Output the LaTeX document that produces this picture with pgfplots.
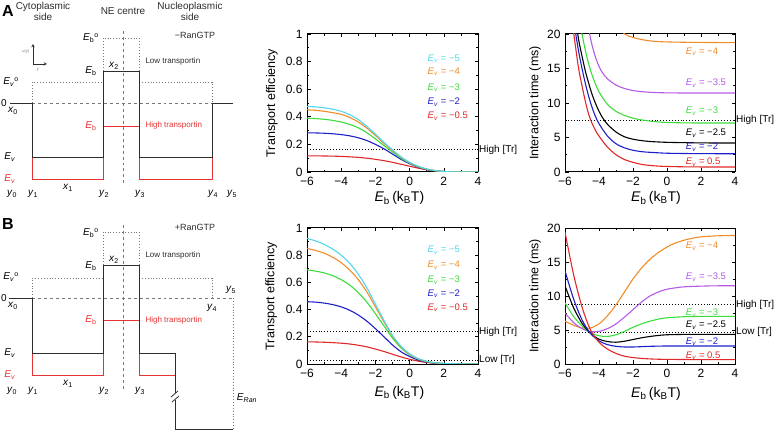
\documentclass[border=0pt]{standalone}
\usepackage{pgfplots}
\pgfplotsset{compat=1.18}
\usepackage{fontspec}
\setmainfont{Liberation Sans}
\newcommand{\fs}[1]{\fontsize{#1bp}{#1bp}\selectfont}
\newcommand{\Ev}{\textit{E}\textsubscript{\textit{v}}}
\newcommand{\Eb}{\textit{E}\textsubscript{b}}
\definecolor{cyanc}{RGB}{80,215,240}
\definecolor{orangec}{RGB}{240,140,40}
\definecolor{greenc}{RGB}{60,220,60}
\definecolor{bluec}{RGB}{30,30,200}
\definecolor{redc}{RGB}{225,40,40}
\definecolor{purplec}{RGB}{180,90,230}
\definecolor{schk}{RGB}{45,45,45}
\definecolor{schr}{RGB}{230,50,50}
\definecolor{schg}{RGB}{120,120,120}
\pgfplotsset{
  myax/.style={scale only axis, anchor=south west, clip mode=individual,
    xmin=-6, xmax=4, xtick={-6,-4,-2,0,2,4}, xticklabels={−6,−4,−2,0,2,4},
    tick align=inside, ticklabel style={font=\fs{12}},
    xticklabel style={yshift=-1.5bp}, yticklabel style={xshift=-1bp},
    axis line style={line width=1pt},
    major tick length=3.5bp, minor tick length=2bp,
    minor x tick num=1, minor y tick num=1,
    every tick/.style={black, line width=0.6pt},
    xlabel={\Eb\,(k\textsubscript{B}T)},
    xlabel style={font=\fs{14}},
    ylabel style={font=\fs{12.5}},
    no marks},
  cur/.style={line width=1.1pt, smooth},
  dl/.style={black, dotted, line width=0.9pt},
  sch/.style={schk, line width=1pt},
  schred/.style={schr, line width=1pt},
  schdot/.style={schg, dotted, line width=0.9pt},
  schdash/.style={schg, dashed, line width=0.7pt},
}
\begin{document}
\begin{tikzpicture}
\useasboundingbox (0,0) rectangle (776bp,432bp);
% ---------------- schematics ----------------
\begin{axis}[scale only axis, anchor=south west, at={(0,0)}, width=776bp, height=432bp,
  xmin=0, xmax=776, ymin=0, ymax=432, y dir=reverse, hide axis, clip=false, no marks]
% ===== panel A =====
\addplot[schdash] coordinates {(32,103)(212,103)};
\addplot[schdash] coordinates {(123,31)(123,183)};
\addplot[schdot] coordinates {(32,103)(32,82)(103,82)};
\addplot[schdot] coordinates {(103,71)(103,38)(139,38)(139,71)};
\addplot[schdot] coordinates {(139,82)(212,82)(212,103)};
\addplot[schred] coordinates {(32,157)(32,179)(103,179)(103,157)};
\addplot[schred] coordinates {(139,157)(139,179)(212,179)(212,157)};
\addplot[schred] coordinates {(103,126)(139,126)};
\addplot[sch] coordinates {(10,103)(32,103)(32,157)(103,157)(103,71)(139,71)(139,157)(212,157)(212,103)(233,103)};
\addplot[schk, line width=0.5pt, -stealth] coordinates {(33,64)(33,44)};
\addplot[schk, line width=0.5pt, -stealth] coordinates {(33,64)(47,64)};
\node[font=\fs{4}, text=schg] at (axis cs:26,51) {\textit{u}(\textit{y})};
\node[font=\fs{4}, text=schg] at (axis cs:38,70) {\textit{y}};
\node[font=\bfseries\fs{16}] at (axis cs:8,11) {A};
\node[font=\fontsize{10bp}{11bp}\selectfont, align=center, text=schk] at (axis cs:43,11) {Cytoplasmic\\side};
\node[font=\fs{10}, text=schk] at (axis cs:123,11) {NE centre};
\node[font=\fontsize{10bp}{11bp}\selectfont, align=center, text=schk] at (axis cs:190,11) {Nucleoplasmic\\side};
\node[font=\fs{9}, text=schk] at (axis cs:195,35) {−RanGTP};
\node[font=\fs{10}] at (axis cs:91,38) {\Eb\textsuperscript{o}};
\node[font=\fs{8}, text=schk, anchor=west] at (axis cs:142,61) {Low transportin};
\node[font=\fs{10}] at (axis cs:91,71) {\Eb};
\node[font=\fs{10}] at (axis cs:114,66) {\textit{x}\textsubscript{2}};
\node[font=\fs{10}] at (axis cs:11,82) {\Ev\textsuperscript{o}};
\node[font=\fs{10}] at (axis cs:4,103) {0};
\node[font=\fs{10}] at (axis cs:13,111) {\textit{x}\textsubscript{0}};
\node[font=\fs{10}, text=schr] at (axis cs:91,126) {\Eb};
\node[font=\fs{8}, text=schr, anchor=west] at (axis cs:142,125) {High transportin};
\node[font=\fs{10}] at (axis cs:10,157) {\Ev};
\node[font=\fs{10}, text=schr] at (axis cs:10,179) {\Ev};
\node[font=\fs{10}] at (axis cs:68,188) {\textit{x}\textsubscript{1}};
\node[font=\fs{10}] at (axis cs:12,194) {\textit{y}\textsubscript{0}};
\node[font=\fs{10}] at (axis cs:33,194) {\textit{y}\textsubscript{1}};
\node[font=\fs{10}] at (axis cs:104,194) {\textit{y}\textsubscript{2}};
\node[font=\fs{10}] at (axis cs:140,194) {\textit{y}\textsubscript{3}};
\node[font=\fs{10}] at (axis cs:213,194) {\textit{y}\textsubscript{4}};
\node[font=\fs{10}] at (axis cs:232,194) {\textit{y}\textsubscript{5}};
% ===== panel B =====
\addplot[schdash] coordinates {(32,298)(233,298)};
\addplot[schdash] coordinates {(123,225)(123,392)};
\addplot[schdot] coordinates {(32,298)(32,278)(103,278)};
\addplot[schdot] coordinates {(103,265)(103,232)(139,232)(139,265)};
\addplot[schdot] coordinates {(139,278)(212,278)(212,298)};
\addplot[schdot] coordinates {(233,298)(233,429)};
\addplot[schred] coordinates {(32,353)(32,375)(103,375)(103,353)};
\addplot[schred] coordinates {(139,353)(139,375)(175,375)};
\addplot[schred] coordinates {(103,320)(139,320)};
\addplot[sch] coordinates {(9,298)(32,298)(32,353)(103,353)(103,265)(139,265)(139,353)(175,353)(175,393)};
\addplot[sch] coordinates {(175,400)(175,429)(233,429)};
\addplot[sch, line width=0.8pt] coordinates {(171,397)(178,391)};
\addplot[sch, line width=0.8pt] coordinates {(172,402)(179,396)};
\node[font=\bfseries\fs{16}] at (axis cs:8,224) {B};
\node[font=\fs{9}, text=schk] at (axis cs:195,227) {+RanGTP};
\node[font=\fs{10}] at (axis cs:91,233) {\Eb\textsuperscript{o}};
\node[font=\fs{8}, text=schk, anchor=west] at (axis cs:142,255) {Low transportin};
\node[font=\fs{10}] at (axis cs:91,266) {\Eb};
\node[font=\fs{10}] at (axis cs:114,260) {\textit{x}\textsubscript{2}};
\node[font=\fs{10}] at (axis cs:11,277) {\Ev\textsuperscript{o}};
\node[font=\fs{10}] at (axis cs:4,298) {0};
\node[font=\fs{10}] at (axis cs:13,306) {\textit{x}\textsubscript{0}};
\node[font=\fs{10}, text=schr] at (axis cs:91,320) {\Eb};
\node[font=\fs{8}, text=schr, anchor=west] at (axis cs:142,320) {High transportin};
\node[font=\fs{10}] at (axis cs:212,308) {\textit{y}\textsubscript{4}};
\node[font=\fs{10}] at (axis cs:231,290) {\textit{y}\textsubscript{5}};
\node[font=\fs{10}] at (axis cs:10,353) {\Ev};
\node[font=\fs{10}, text=schr] at (axis cs:10,375) {\Ev};
\node[font=\fs{10}] at (axis cs:68,384) {\textit{x}\textsubscript{1}};
\node[font=\fs{10}] at (axis cs:12,391) {\textit{y}\textsubscript{0}};
\node[font=\fs{10}] at (axis cs:33,391) {\textit{y}\textsubscript{1}};
\node[font=\fs{10}] at (axis cs:104,391) {\textit{y}\textsubscript{2}};
\node[font=\fs{10}] at (axis cs:140,391) {\textit{y}\textsubscript{3}};
\node[font=\fs{10}] at (axis cs:247,398) {\textit{E}\textsubscript{\textit{Ran}}};
\end{axis}
% ---------------- A: transport efficiency ----------------
\begin{axis}[myax, at={(307bp,260bp)}, width=171bp, height=138bp,
  ymin=0, ymax=1, ytick={0,0.2,0.4,0.6,0.8,1}, yticklabels={0,0.2,0.4,0.6,0.8,1},
  ylabel={Transport efficiency},
  ylabel style={at={(axis description cs:-0.205,0.5)}, anchor=center},
  xlabel style={at={(axis description cs:0.54,-0.19)}, anchor=center}]
\addplot[dl] coordinates {(-6,0.163)(4,0.163)};
\addplot[cur, redc] coordinates {(-6,0.117)(-5.5,0.117)(-5,0.116)(-4.5,0.115)(-4,0.113)(-3.5,0.110)(-3,0.106)(-2.5,0.100)(-2,0.092)(-1.5,0.082)(-1,0.070)(-0.5,0.056)(0,0.042)(0.5,0.028)(1,0.016)(1.5,0.008)(2,0.003)(2.5,0.001)(3,0)(3.5,0)(4,0)};
\addplot[cur, bluec] coordinates {(-6,0.284)(-5.5,0.283)(-5,0.281)(-4.5,0.277)(-4,0.271)(-3.5,0.262)(-3,0.248)(-2.5,0.228)(-2,0.200)(-1.5,0.168)(-1,0.130)(-0.5,0.092)(0,0.060)(0.5,0.035)(1,0.018)(1.5,0.008)(2,0.003)(2.5,0.001)(3,0)(3.5,0)(4,0)};
\addplot[cur, greenc] coordinates {(-6,0.390)(-5.5,0.387)(-5,0.382)(-4.5,0.374)(-4,0.362)(-3.5,0.345)(-3,0.320)(-2.5,0.285)(-2,0.240)(-1.5,0.192)(-1,0.145)(-0.5,0.100)(0,0.064)(0.5,0.038)(1,0.020)(1.5,0.009)(2,0.003)(2.5,0.001)(3,0)(3.5,0)(4,0)};
\addplot[cur, orangec] coordinates {(-6,0.450)(-5.5,0.447)(-5,0.440)(-4.5,0.430)(-4,0.418)(-3.5,0.395)(-3,0.362)(-2.5,0.318)(-2,0.265)(-1.5,0.208)(-1,0.155)(-0.5,0.107)(0,0.068)(0.5,0.040)(1,0.021)(1.5,0.010)(2,0.004)(2.5,0.001)(3,0)(3.5,0)(4,0)};
\addplot[cur, cyanc] coordinates {(-6,0.475)(-5.5,0.472)(-5,0.465)(-4.5,0.455)(-4,0.440)(-3.5,0.415)(-3,0.380)(-2.5,0.330)(-2,0.275)(-1.5,0.215)(-1,0.160)(-0.5,0.110)(0,0.070)(0.5,0.042)(1,0.022)(1.5,0.010)(2,0.004)(2.5,0.001)(3,0)(3.5,0)(4,0)};
\node[font=\fs{9.5}, text=cyanc, anchor=west] at (axis cs:0.85,0.82) {\Ev\ = −5};
\node[font=\fs{9.5}, text=orangec, anchor=west] at (axis cs:0.85,0.725) {\Ev\ = −4};
\node[font=\fs{9.5}, text=greenc, anchor=west] at (axis cs:0.85,0.61) {\Ev\ = −3};
\node[font=\fs{9.5}, text=bluec, anchor=west] at (axis cs:0.85,0.507) {\Ev\ = −2};
\node[font=\fs{9.5}, text=redc, anchor=west] at (axis cs:0.85,0.406) {\Ev\ = −0.5};
\node[font=\fs{10}, anchor=west, inner sep=1bp] at (axis cs:4,0.163) {High [Tr]};
\end{axis}
% ---------------- A: interaction time ----------------
\begin{axis}[myax, at={(565bp,260bp)}, width=170bp, height=138bp,
  ymin=0, ymax=20, ytick={0,5,10,15,20}, yticklabels={0,5,10,15,20},
  ylabel={Interaction time (ms)},
  ylabel style={at={(axis description cs:-0.176,0.5)}, anchor=center},
  xlabel style={at={(axis description cs:0.535,-0.19)}, anchor=center}]
\addplot[dl] coordinates {(-6,7.5)(4,7.5)};
\addplot[cur, orangec] coordinates {(-3,21.5)(-2.5,20)(-2,19.5)(-1.5,19.2)(-1,19.0)(-0.5,18.9)(0,18.85)(1,18.8)(2,18.78)(3,18.76)(4,18.75)};
\addplot[cur, purplec] coordinates {(-4.7,22.5)(-4.55,20)(-4.4,18.3)(-4.2,16.6)(-4,15.3)(-3.8,14.4)(-3.5,13.5)(-3,12.6)(-2.5,12.1)(-2,11.8)(-1.5,11.65)(-1,11.55)(-0.5,11.5)(0,11.47)(1,11.45)(2,11.45)(3,11.45)(4,11.45)};
\addplot[cur, greenc] coordinates {(-5.1,21.5)(-5,20)(-4.8,17.6)(-4.6,15.6)(-4.4,14.0)(-4.2,12.7)(-4,11.6)(-3.5,9.8)(-3,8.8)(-2.5,8.2)(-2,7.8)(-1.5,7.55)(-1,7.38)(-0.5,7.25)(0,7.18)(1,7.12)(2,7.1)(3,7.1)(4,7.1)};
\addplot[cur, black] coordinates {(-5.4,22.5)(-5.2,19.2)(-5,16.8)(-4.8,14.6)(-4.6,12.8)(-4.4,11.2)(-4.2,9.9)(-4,8.8)(-3.8,7.9)(-3.5,6.9)(-3,5.8)(-2.5,5.1)(-2,4.75)(-1.5,4.55)(-1,4.42)(-0.5,4.35)(0,4.3)(1,4.25)(2,4.22)(3,4.2)(4,4.2)};
\addplot[cur, bluec] coordinates {(-5.5,22.5)(-5.4,20.5)(-5.2,17.5)(-5,15)(-4.8,12.8)(-4.6,10.9)(-4.4,9.3)(-4.2,8.0)(-4,7.0)(-3.5,5.2)(-3,4.1)(-2.5,3.5)(-2,3.15)(-1.5,2.95)(-1,2.85)(-0.5,2.78)(0,2.72)(1,2.68)(2,2.66)(3,2.65)(4,2.65)};
\addplot[cur, redc] coordinates {(-5.6,22.5)(-5.5,20.3)(-5.4,18.5)(-5.2,15)(-5,12.5)(-4.8,10.2)(-4.6,8.3)(-4.4,7.0)(-4.2,6.0)(-4,5.2)(-3.5,3.6)(-3,2.5)(-2.5,1.8)(-2,1.4)(-1.5,1.1)(-1,0.95)(-0.5,0.85)(0,0.8)(1,0.75)(2,0.73)(3,0.72)(4,0.72)};
\node[font=\fs{9.5}, text=orangec, anchor=west] at (axis cs:0.9,17.4) {\Ev\ = −4};
\node[font=\fs{9.5}, text=purplec, anchor=west] at (axis cs:0.9,12.9) {\Ev\ = −3.5};
\node[font=\fs{9.5}, text=greenc, anchor=west] at (axis cs:0.9,8.84) {\Ev\ = −3};
\node[font=\fs{9.5}, text=black, anchor=west] at (axis cs:0.9,5.65) {\Ev\ = −2.5};
\node[font=\fs{9.5}, text=bluec, anchor=west] at (axis cs:0.9,3.6) {\Ev\ = −2};
\node[font=\fs{9.5}, text=redc, anchor=west] at (axis cs:0.9,1.45) {\Ev\ = 0.5};
\node[font=\fs{10}, anchor=west, inner sep=1bp] at (axis cs:4,7.5) {High [Tr]};
\end{axis}
% ---------------- B: transport efficiency ----------------
\begin{axis}[myax, at={(307bp,68bp)}, width=171bp, height=136bp,
  ymin=0, ymax=1, ytick={0,0.2,0.4,0.6,0.8,1}, yticklabels={0,0.2,0.4,0.6,0.8,1},
  ylabel={Transport efficiency},
  ylabel style={at={(axis description cs:-0.21,0.5)}, anchor=center},
  xlabel style={at={(axis description cs:0.54,-0.21)}, anchor=center}]
\addplot[dl] coordinates {(-6,0.239)(4,0.239)};
\addplot[dl] coordinates {(-6,0.027)(4,0.027)};
\addplot[cur, redc] coordinates {(-6,0.163)(-5.5,0.162)(-5,0.160)(-4.5,0.157)(-4,0.153)(-3.5,0.147)(-3,0.138)(-2.5,0.126)(-2,0.110)(-1.5,0.092)(-1,0.072)(-0.5,0.052)(0,0.035)(0.5,0.021)(1,0.011)(1.5,0.005)(2,0.002)(2.5,0.001)(3,0)(3.5,0)(4,0)};
\addplot[cur, bluec] coordinates {(-6,0.458)(-5.5,0.455)(-5,0.448)(-4.5,0.437)(-4,0.420)(-3.5,0.395)(-3,0.360)(-2.5,0.315)(-2,0.260)(-1.5,0.200)(-1,0.140)(-0.5,0.090)(0,0.055)(0.5,0.030)(1,0.015)(1.5,0.007)(2,0.003)(2.5,0.001)(3,0)(3.5,0)(4,0)};
\addplot[cur, greenc] coordinates {(-6,0.692)(-5.5,0.683)(-5,0.670)(-4.5,0.650)(-4,0.620)(-3.5,0.580)(-3,0.525)(-2.5,0.455)(-2,0.370)(-1.5,0.280)(-1,0.190)(-0.5,0.118)(0,0.068)(0.5,0.036)(1,0.018)(1.5,0.008)(2,0.003)(2.5,0.001)(3,0)(3.5,0)(4,0)};
\addplot[cur, orangec] coordinates {(-6,0.850)(-5.5,0.835)(-5,0.815)(-4.5,0.785)(-4,0.745)(-3.5,0.690)(-3,0.620)(-2.5,0.530)(-2,0.420)(-1.5,0.310)(-1,0.205)(-0.5,0.125)(0,0.072)(0.5,0.038)(1,0.019)(1.5,0.009)(2,0.004)(2.5,0.002)(3,0.001)(3.5,0)(4,0)};
\addplot[cur, cyanc] coordinates {(-6,0.924)(-5.5,0.905)(-5,0.880)(-4.5,0.845)(-4,0.800)(-3.5,0.740)(-3,0.660)(-2.5,0.560)(-2,0.440)(-1.5,0.320)(-1,0.210)(-0.5,0.130)(0,0.075)(0.5,0.040)(1,0.020)(1.5,0.009)(2,0.004)(2.5,0.002)(3,0.001)(3.5,0)(4,0)};
\node[font=\fs{9.5}, text=cyanc, anchor=west] at (axis cs:0.85,0.837) {\Ev\ = −5};
\node[font=\fs{9.5}, text=orangec, anchor=west] at (axis cs:0.85,0.727) {\Ev\ = −4};
\node[font=\fs{9.5}, text=greenc, anchor=west] at (axis cs:0.85,0.618) {\Ev\ = −3};
\node[font=\fs{9.5}, text=bluec, anchor=west] at (axis cs:0.85,0.517) {\Ev\ = −2};
\node[font=\fs{9.5}, text=redc, anchor=west] at (axis cs:0.85,0.414) {\Ev\ = −0.5};
\node[font=\fs{10}, anchor=west, inner sep=1bp] at (axis cs:4,0.239) {High [Tr]};
\node[font=\fs{10}, anchor=west, inner sep=1bp] at (axis cs:4,0.027) {Low [Tr]};
\end{axis}
% ---------------- B: interaction time ----------------
\begin{axis}[myax, at={(565bp,68bp)}, width=170bp, height=136bp,
  ymin=0, ymax=20, ytick={0,5,10,15,20}, yticklabels={0,5,10,15,20},
  ylabel={Interaction time (ms)},
  ylabel style={at={(axis description cs:-0.176,0.5)}, anchor=center},
  xlabel style={at={(axis description cs:0.535,-0.22)}, anchor=center}]
\addplot[dl] coordinates {(-6,8.7)(4,8.7)};
\addplot[dl] coordinates {(-6,4.7)(4,4.7)};
\addplot[cur, orangec] coordinates {(-6,6.3)(-5.5,5.7)(-5,5.3)(-4.5,5.3)(-4,5.9)(-3.5,7.1)(-3,8.7)(-2.5,10.6)(-2,12.5)(-1.5,14.1)(-1,15.4)(-0.5,16.4)(0,17.2)(0.5,17.8)(1,18.2)(1.5,18.5)(2,18.7)(3,18.85)(4,18.9)};
\addplot[cur, purplec] coordinates {(-6,7.5)(-5.5,6.1)(-5,5.2)(-4.5,4.75)(-4,4.8)(-3.5,5.2)(-3,5.9)(-2.5,6.9)(-2,8.0)(-1.5,9.1)(-1,10.0)(-0.5,10.6)(0,11.0)(0.5,11.2)(1,11.35)(2,11.45)(3,11.5)(4,11.5)};
\addplot[cur, greenc] coordinates {(-6,9.0)(-5.5,7.0)(-5,5.6)(-4.5,4.6)(-4,4.15)(-3.5,4.05)(-3,4.3)(-2.5,4.8)(-2,5.4)(-1.5,5.9)(-1,6.3)(-0.5,6.6)(0,6.8)(1,6.95)(2,7.0)(3,7.0)(4,7.0)};
\addplot[cur, black] coordinates {(-6,11.5)(-5.5,8.3)(-5,6.0)(-4.5,4.5)(-4,3.65)(-3.5,3.3)(-3,3.2)(-2.5,3.35)(-2,3.6)(-1.5,3.85)(-1,4.05)(-0.5,4.2)(0,4.3)(1,4.35)(2,4.35)(3,4.35)(4,4.35)};
\addplot[cur, bluec] coordinates {(-6,13.7)(-5.5,9.6)(-5,6.5)(-4.5,4.5)(-4,3.4)(-3.5,2.85)(-3,2.6)(-2.5,2.5)(-2,2.5)(-1.5,2.55)(-1,2.6)(0,2.65)(1,2.65)(2,2.65)(3,2.65)(4,2.65)};
\addplot[cur, redc] coordinates {(-6,19.4)(-5.5,13.2)(-5,8.4)(-4.5,5.0)(-4,3.2)(-3.5,2.2)(-3,1.55)(-2.5,1.15)(-2,0.95)(-1.5,0.82)(-1,0.75)(-0.5,0.7)(0,0.68)(1,0.66)(2,0.65)(3,0.65)(4,0.65)};
\node[font=\fs{9.5}, text=orangec, anchor=west] at (axis cs:0.9,17.3) {\Ev\ = −4};
\node[font=\fs{9.5}, text=purplec, anchor=west] at (axis cs:0.9,12.8) {\Ev\ = −3.5};
\node[font=\fs{9.5}, text=greenc, anchor=west] at (axis cs:0.9,7.5) {\Ev\ = −3};
\node[font=\fs{9.5}, text=black, anchor=west] at (axis cs:0.9,5.7) {\Ev\ = −2.5};
\node[font=\fs{9.5}, text=bluec, anchor=west] at (axis cs:0.9,3.3) {\Ev\ = −2};
\node[font=\fs{9.5}, text=redc, anchor=west] at (axis cs:0.9,1.2) {\Ev\ = 0.5};
\node[font=\fs{10}, anchor=west, inner sep=1bp] at (axis cs:4,8.7) {High [Tr]};
\node[font=\fs{10}, anchor=west, inner sep=1bp] at (axis cs:4,4.7) {Low [Tr]};
\end{axis}
\end{tikzpicture}
\end{document}
